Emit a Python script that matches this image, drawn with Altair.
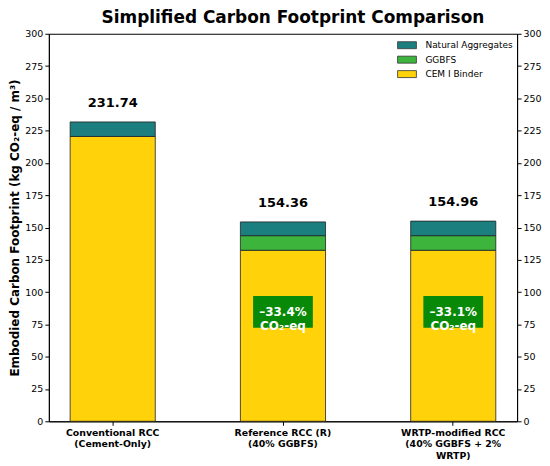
import altair as alt
import pandas as pd

# ---- data ----
categories = [
    "Conventional RCC\n(Cement-Only)",
    "Reference RCC (R)\n(40% GGBFS)",
    "WRTP-modified RCC\n(40% GGBFS + 2%\nWRTP)",
]
cem_binder = [220.5, 132.4, 132.4]
ggbfs = [0.0, 11.3, 11.3]
natural_aggregates = [11.24, 10.66, 11.26]
totals = [231.74, 154.36, 154.96]
reductions = ["", "\u201333.4%\nCO\u2082-eq", "\u201333.1%\nCO\u2082-eq"]

components = ["Natural Aggregates", "GGBFS", "CEM I Binder"]
component_colors = ["#1b7f80", "#3db53d", "#ffd20a"]
y_ticks = [0, 25, 50, 75, 100, 125, 150, 175, 200, 225, 250, 275, 300]

FONT = "DejaVu Sans"

# ---- tables ----
rows = []
for i, cat in enumerate(categories):
    for comp, vals, order in [("CEM I Binder", cem_binder, 0), ("GGBFS", ggbfs, 1),
                              ("Natural Aggregates", natural_aggregates, 2)]:
        if vals[i] > 0:
            rows.append({"category": cat, "component": comp, "value": vals[i], "stack_order": order})
df_long = pd.DataFrame(rows)
df_tot = pd.DataFrame({"category": categories, "total": totals})
df_red = pd.DataFrame({"category": categories, "label": reductions})
df_red = df_red[df_red["label"] != ""]

x_enc = alt.X(
    "category:N",
    sort=categories,
    scale=alt.Scale(paddingInner=0.5, paddingOuter=0.125),
    axis=alt.Axis(
        title=None, labelAngle=0, labelExpr="split(datum.label, '\\n')",
        labelFontWeight="bold", labelFontSize=9.4, labelLineHeight=11.5,
        labelPadding=3, tickSize=4,
    ),
)
y_scale = alt.Scale(domain=[0, 300], nice=False)

bars = alt.Chart(df_long).mark_bar(stroke="#222222", strokeWidth=0.8).encode(
    x=x_enc,
    y=alt.Y(
        "value:Q", stack="zero", scale=y_scale,
        axis=alt.Axis(orient="left", values=y_ticks,
                      title="Embodied Carbon Footprint (kg CO\u2082-eq / m\u00b3)",
                      titlePadding=3),
    ),
    color=alt.Color(
        "component:N",
        scale=alt.Scale(domain=components, range=component_colors),
        legend=alt.Legend(
            title=None, orient="none", legendX=355, legendY=7,
            symbolType="M-2.7,-1H2.7V1H-2.7Z", symbolSize=49,
            symbolStrokeColor="#333333", symbolStrokeWidth=0.8, symbolOpacity=1,
            labelFont=FONT, labelFontSize=9, labelOffset=14, rowPadding=3.5, padding=0,
        ),
    ),
    order=alt.Order("stack_order:Q"),
)

value_labels = alt.Chart(df_tot).mark_text(
    font=FONT, fontWeight="bold", fontSize=13, dy=-19, baseline="middle", color="black"
).encode(
    x=x_enc,
    y=alt.Y("total:Q", scale=y_scale,
            axis=alt.Axis(orient="right", values=y_ticks, title=None)),
    text=alt.Text("total:Q", format=".2f"),
)

boxes = alt.Chart(df_red).transform_calculate(lo="72.5", hi="96.9").mark_bar(
    color="#088a08", size=60
).encode(
    x=x_enc,
    y=alt.Y("lo:Q", scale=y_scale, axis=None),
    y2="hi:Q",
)

box_text = alt.Chart(df_red).transform_calculate(mid="84.7").mark_text(
    font=FONT, fontWeight="bold", fontSize=12, color="white",
    lineBreak="\n", lineHeight=14.5, baseline="middle",
).encode(
    x=x_enc,
    y=alt.Y("mid:Q", scale=y_scale, axis=None),
    text="label:N",
)

chart = (
    alt.layer(bars, value_labels, boxes, box_text)
    .resolve_axis(y="independent")
    .properties(
        width=470, height=389, padding=0, background="white",
        title=alt.TitleParams(
            "Simplified Carbon Footprint Comparison", font=FONT, fontSize=17,
            fontWeight="bold", color="black", offset=2, dx=10,
        ),
    )
    .configure_view(stroke="black", strokeWidth=1)
    .configure_axis(
        grid=False, domainColor="black", domainWidth=1, tickColor="black", tickWidth=1,
        tickSize=4, labelColor="black", labelFont=FONT, labelFontSize=9.5,
        titleFont=FONT, titleFontSize=12, titleFontWeight="bold", titleColor="black",
    )
)

chart.save("out.html", embed_options={"renderer": "svg", "actions": False})
